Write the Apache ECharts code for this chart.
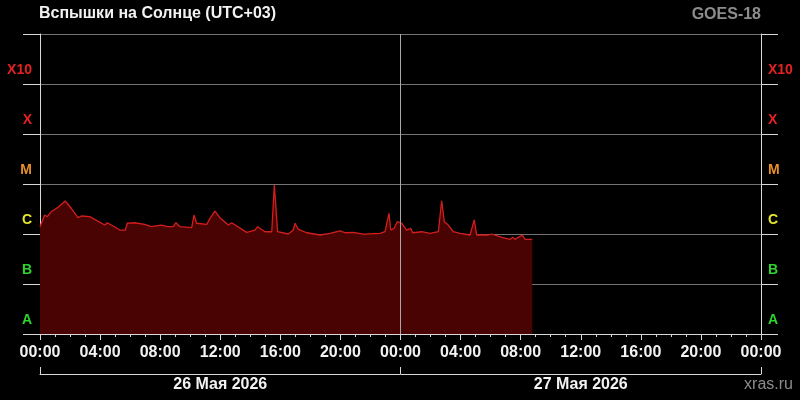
<!DOCTYPE html>
<html>
<head>
<meta charset="utf-8">
<script src="https://cdn.jsdelivr.net/npm/echarts@6/dist/echarts.min.js"></script>
<style>
  html, body { margin: 0; padding: 0; background: #000; }
  #chart { width: 800px; height: 400px; }
</style>
</head>
<body>
<div id="chart"></div>
<script>
// ---- Data ----
const chartTitle = 'Вспышки на Солнце (UTC+03)';
const satellite = 'GOES-18';
const source = 'xras.ru';
const dayLabels = ['26 Мая 2026', '27 Мая 2026'];
const flareClasses = ['A', 'B', 'C', 'M', 'X', 'X10'];     // decades 1e-8 .. 1e-3
const classExponents = [-8, -7, -6, -5, -4, -3];
// hours since 26 May 00:00 (UTC+03)
const hours = [
  0, 0.31, 0.49, 0.75, 1.2, 1.68, 2.08, 2.53, 2.75, 3.31,
  4.31, 4.48, 4.75, 5.31, 5.68, 5.81, 6.3, 6.97, 7.41, 8.08,
  8.52, 8.87, 9.05, 9.32, 10.1, 10.25, 10.43, 11.1, 11.32, 11.65,
  11.98, 12.54, 12.76, 13.76, 14.31, 14.49, 14.98, 15.43, 15.6, 15.82,
  16.53, 16.86, 16.98, 17.2, 17.76, 18.64, 19.31, 19.97, 20.31, 20.86,
  21.52, 22.64, 22.97, 23.23, 23.35, 23.57, 23.79, 24.08, 24.41, 24.68,
  24.81, 25.41, 25.96, 26.52, 26.74, 26.92, 27.18, 27.52, 27.96, 28.63,
  28.91, 29.07, 29.85, 30.07, 30.74, 31.29, 31.47, 31.62, 32.11, 32.29, 32.77
];
// X-ray flux, W/m^2
const flux = [
  1.4e-6, 2.4e-6, 2.22e-6, 2.79e-6, 3.42e-6, 4.57e-6, 3.27e-6, 2.12e-6, 2.29e-6, 2.22e-6,
  1.51e-6, 1.68e-6, 1.51e-6, 1.2e-6, 1.2e-6, 1.64e-6, 1.68e-6, 1.56e-6, 1.4e-6, 1.51e-6,
  1.4e-6, 1.4e-6, 1.68e-6, 1.4e-6, 1.34e-6, 2.4e-6, 1.64e-6, 1.56e-6, 2.06e-6, 2.88e-6,
  2.12e-6, 1.51e-6, 1.68e-6, 1.08e-6, 1.2e-6, 1.4e-6, 1.11e-6, 1.11e-6, 9.5e-6, 1.11e-6,
  1.0e-6, 1.2e-6, 1.64e-6, 1.24e-6, 1.06e-6, 0.955e-6, 1.03e-6, 1.16e-6, 1.06e-6, 1.08e-6,
  0.99e-6, 1.03e-6, 1.11e-6, 2.59e-6, 1.2e-6, 1.3e-6, 1.76e-6, 1.64e-6, 1.2e-6, 1.3e-6,
  1.06e-6, 1.11e-6, 1.03e-6, 1.11e-6, 4.63e-6, 1.76e-6, 1.51e-6, 1.11e-6, 1.03e-6, 0.955e-6,
  1.91e-6, 0.955e-6, 0.955e-6, 1.0e-6, 0.86e-6, 0.78e-6, 0.86e-6, 0.78e-6, 0.955e-6, 0.78e-6, 0.78e-6
];

// ---- Styles ----
const classColors = { A: '#2fd22f', B: '#2fd22f', C: '#e6e62e', M: '#e8902a', X: '#e52222', X10: '#e52222' };
const axisColor = '#d8d8d8';
const font = 'Liberation Sans, Arial, sans-serif';

const richStyles = {};
flareClasses.forEach(function (c) {
  richStyles['c' + c] = { color: classColors[c], fontWeight: 'bold', fontSize: 14, fontFamily: font };
});
function classLabel(v) {
  const e = Math.round(Math.log10(v));
  const i = classExponents.indexOf(e);
  if (i < 0) return '';
  return '{c' + flareClasses[i] + '|' + flareClasses[i] + '}';
}
function pad2(n) { return (n < 10 ? '0' : '') + n; }

const seriesData = hours.map(function (h, i) { return [h, flux[i]]; });

const chart = echarts.init(document.getElementById('chart'), null, { renderer: 'canvas' });

function yAxisDef(pos, showSplit) {
  return {
    type: 'log', logBase: 10, min: 1e-8, max: 1e-2, interval: 1,
    position: pos,
    axisLine: { show: true, lineStyle: { color: axisColor, width: 1 } },
    axisTick: { show: true, length: 17, lineStyle: { color: axisColor, width: 1 } },
    minorTick: { show: false },
    splitLine: { show: showSplit, lineStyle: { color: '#747474', width: 1 } },
    axisLabel: {
      show: true, formatter: classLabel, rich: richStyles,
      margin: pos === 'left' ? 8 : 7,
      verticalAlign: 'middle', padding: [0, 0, 28, 0]
    }
  };
}

chart.setOption({
  animation: false,
  backgroundColor: '#000000',
  title: [
    { text: chartTitle, left: 39, top: 6, padding: 0,
      textStyle: { color: '#f2f2f2', fontSize: 16, fontWeight: 'bold', fontFamily: font } },
    { text: satellite, right: 39, top: 7, padding: 0,
      textStyle: { color: '#8c8c8c', fontSize: 16, fontWeight: 'bold', fontFamily: font } },
    { text: source, right: 7, top: 377, padding: 0,
      textStyle: { color: '#8c8c8c', fontSize: 16, fontWeight: 'normal', fontFamily: font } }
  ],
  grid: { left: 40, right: 39, top: 34, bottom: 66, containLabel: false },
  xAxis: [
    {
      type: 'value', min: 0, max: 48, interval: 4, position: 'bottom',
      axisLine: { show: true, onZero: false, lineStyle: { color: axisColor, width: 1 } },
      axisTick: { show: true, length: 6, lineStyle: { color: axisColor } },
      minorTick: { show: true, splitNumber: 4, length: 3, lineStyle: { color: axisColor } },
      splitLine: { show: false },
      axisLabel: {
        color: '#f2f2f2', fontSize: 16, fontWeight: 'bold', fontFamily: font, margin: 11,
        formatter: function (v) { return pad2(v % 24) + ':00'; }
      }
    },
    {
      type: 'category', data: dayLabels, position: 'bottom', offset: 40, boundaryGap: true,
      axisLine: { show: true, lineStyle: { color: axisColor, width: 1 } },
      axisTick: { show: true, inside: true, length: 7, interval: 0, alignWithLabel: false, lineStyle: { color: axisColor } },
      splitLine: { show: false },
      axisLabel: { color: '#f2f2f2', fontSize: 16, fontWeight: 'bold', fontFamily: font, margin: 3, interval: 0 }
    }
  ],
  yAxis: [yAxisDef('left', true), yAxisDef('right', false)],
  series: [{
    type: 'line', xAxisIndex: 0, yAxisIndex: 0,
    data: seriesData, showSymbol: false, symbol: 'none',
    lineStyle: { color: '#d41e1e', width: 1.3 },
    itemStyle: { color: '#d41e1e' },
    areaStyle: { color: '#4a0303', opacity: 1, origin: 'start' },
    markLine: {
      silent: true, symbol: 'none', label: { show: false },
      lineStyle: { color: '#a8a8a8', width: 1, type: 'solid' },
      data: [{ xAxis: 24 }]
    },
    z: 2
  }]
});
</script>
</body>
</html>
